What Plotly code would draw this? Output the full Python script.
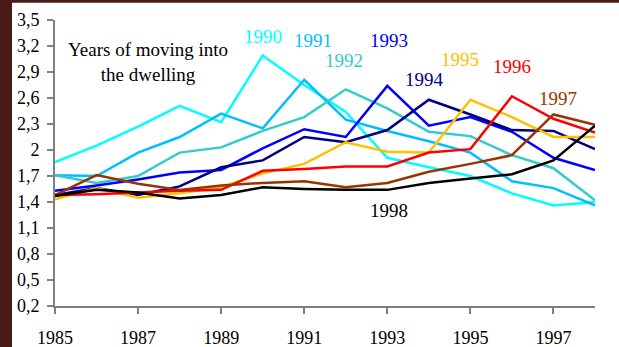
import plotly.graph_objects as go

years = list(range(1985, 1999))

moved_1990 = [1.86, 2.05, 2.27, 2.51, 2.32, 3.09, 2.75, 2.44, 1.91, 1.80, 1.70, 1.50, 1.36, 1.40]
moved_1991 = [1.71, 1.70, 1.97, 2.15, 2.42, 2.25, 2.81, 2.35, 2.22, 2.10, 1.97, 1.64, 1.56, 1.36]
moved_1992 = [1.71, 1.62, 1.70, 1.97, 2.03, 2.22, 2.38, 2.70, 2.48, 2.21, 2.16, 1.94, 1.79, 1.42]
moved_1993 = [1.53, 1.59, 1.66, 1.74, 1.77, 2.02, 2.24, 2.15, 2.74, 2.28, 2.38, 2.21, 1.91, 1.77]
moved_1994 = [1.48, 1.56, 1.48, 1.58, 1.80, 1.88, 2.15, 2.09, 2.23, 2.58, 2.41, 2.23, 2.22, 2.01]
moved_1995 = [1.43, 1.56, 1.45, 1.50, 1.57, 1.73, 1.84, 2.09, 1.98, 1.97, 2.58, 2.38, 2.15, 2.15]
moved_1996 = [1.48, 1.49, 1.51, 1.53, 1.54, 1.76, 1.78, 1.81, 1.81, 1.97, 2.01, 2.62, 2.36, 2.20]
moved_1997 = [1.48, 1.71, 1.61, 1.54, 1.59, 1.62, 1.64, 1.57, 1.62, 1.75, 1.84, 1.94, 2.41, 2.29]
moved_1998 = [1.47, 1.54, 1.51, 1.44, 1.48, 1.57, 1.55, 1.54, 1.54, 1.62, 1.67, 1.72, 1.88, 2.28]

y_ticks = [0.2, 0.5, 0.8, 1.1, 1.4, 1.7, 2.0, 2.3, 2.6, 2.9, 3.2, 3.5]
y_labels = ["0,2", "0,5", "0,8", "1,1", "1,4", "1,7", "2", "2,3", "2,6", "2,9", "3,2", "3,5"]
x_ticks = [1985, 1987, 1989, 1991, 1993, 1995, 1997]

# name, values, colour, label position (year, value)
series = [
    ("1990", moved_1990, "#00FFFF", 1990.0, 3.31),
    ("1991", moved_1991, "#00BFFF", 1991.2, 3.26),
    ("1992", moved_1992, "#33CCCC", 1991.95, 3.03),
    ("1993", moved_1993, "#0000FF", 1993.05, 3.26),
    ("1994", moved_1994, "#000080", 1993.9, 2.81),
    ("1995", moved_1995, "#FFC000", 1994.75, 3.04),
    ("1996", moved_1996, "#FF0000", 1996.0, 2.96),
    ("1997", moved_1997, "#993300", 1997.1, 2.60),
    ("1998", moved_1998, "#000000", 1993.05, 1.30),
]

serif = "Liberation Serif"

fig = go.Figure()
for name, vals, col, lx, ly in series:
    fig.add_trace(go.Scatter(x=years, y=vals, mode="lines", name=name,
                             line=dict(color=col, width=2.5)))
    fig.add_annotation(x=lx, y=ly, text=name, showarrow=False,
                       font=dict(family=serif, size=19, color=col))

fig.add_annotation(x=1987.24, y=3.01, text="Years of moving into<br>the dwelling",
                   showarrow=False, font=dict(family=serif, size=19, color="black"))

# dark frame around the slide
fig.add_shape(type="rect", xref="paper", yref="paper", x0=-0.3, x1=-0.0796, y0=-0.5, y1=1.5,
              fillcolor="#4a1a1a", line_width=0, layer="below")
fig.add_shape(type="rect", xref="paper", yref="paper", x0=-0.3, x1=1.3, y0=1.06, y1=1.5,
              fillcolor="#4a1a1a", line_width=0, layer="below")

fig.update_layout(
    width=619, height=347,
    margin=dict(l=55, r=24, t=20, b=41),
    paper_bgcolor="white", plot_bgcolor="white",
    showlegend=False,
    font=dict(family=serif, size=18, color="black"),
    xaxis=dict(range=[1985, 1998], tickvals=x_ticks, showgrid=False, zeroline=False,
               showline=True, linecolor="#808080", linewidth=2, automargin=False,
               ticks="outside", ticklen=6, tickcolor="#808080", tickwidth=1.5,
               ticklabelstandoff=8, tickfont=dict(family=serif, size=18)),
    yaxis=dict(range=[0.2, 3.5], tickvals=y_ticks, ticktext=y_labels, showgrid=False,
               zeroline=False, showline=True, linecolor="#808080", linewidth=2, automargin=False,
               ticks="outside", ticklen=6, tickcolor="#808080", tickwidth=1.5,
               ticklabelstandoff=4, tickfont=dict(family=serif, size=18)),
)

fig.write_html("out.html", config={"displayModeBar": False},
               post_script="document.body.style.margin='0';")
